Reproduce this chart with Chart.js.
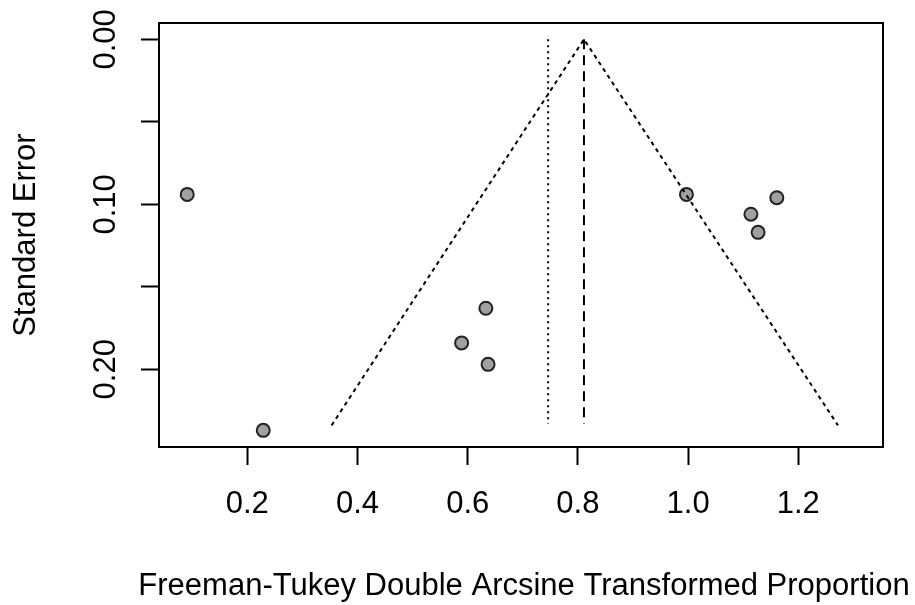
<!DOCTYPE html>
<html>
<head>
<meta charset="utf-8">
<script src="https://cdn.jsdelivr.net/npm/chart.js@4/dist/chart.umd.min.js"></script>
<style>
html,body{margin:0;padding:0;background:#fff;}
#wrap{width:915px;height:605px;}
</style>
</head>
<body>
<div id="wrap"><canvas id="c" width="915" height="605"></canvas></div>
<script>
// Study effects (Freeman-Tukey transformed proportion) and standard errors
const effects = [0.091, 0.229, 0.589, 0.633, 0.637, 0.997, 1.114, 1.127, 1.161];
const stdErrors = [0.094, 0.237, 0.184, 0.163, 0.197, 0.094, 0.106, 0.117, 0.096];
// Funnel (pseudo confidence limits)
const funnelX = [0.353, 0.811, 1.272];
const funnelSE = [0.234, 0.000, 0.234];
// Pooled estimate (dashed) and alternative estimate (dotted)
const pooledX = [0.811, 0.811];
const pooledSE = [0.000, 0.233];
const altX = [0.746, 0.746];
const altSE = [0.000, 0.233];
// Ticks
const xTicks = [0.2, 0.4, 0.6, 0.8, 1.0, 1.2];
const xTickLabels = ['0.2', '0.4', '0.6', '0.8', '1.0', '1.2'];
const yTicks = [0.00, 0.05, 0.10, 0.15, 0.20];
const yTickLabels = ['0.00', '', '0.10', '', '0.20'];
const xTitle = 'Freeman-Tukey Double Arcsine Transformed Proportion';
const yTitle = 'Standard Error';

const FONT = '"Liberation Sans", Arial, sans-serif';
const FS = 31;
const pts = (xs, ys) => xs.map((x, i) => ({x: x, y: ys[i]}));

const boxAndLabels = {
  id: 'boxAndLabels',
  afterDraw(chart) {
    const ctx = chart.ctx, a = chart.chartArea, ys = chart.scales.y;
    ctx.save();
    ctx.strokeStyle = '#000';
    ctx.lineWidth = 2;
    ctx.strokeRect(a.left, a.top, a.right - a.left, a.bottom - a.top);
    ctx.fillStyle = '#000';
    ctx.font = FS + 'px ' + FONT;
    ctx.textAlign = 'center';
    ctx.textBaseline = 'alphabetic';
    yTicks.forEach((v, i) => {
      if (!yTickLabels[i]) return;
      const py = ys.getPixelForValue(v);
      ctx.save();
      ctx.translate(115, py);
      ctx.rotate(-Math.PI / 2);
      ctx.fillText(yTickLabels[i], 0, 0);
      ctx.restore();
    });
    // x-axis title (R places it centred under the plot, may exceed plot width)
    ctx.fillText(xTitle, (a.left + a.right) / 2 + 3, 595);
    ctx.restore();
  }
};

new Chart(document.getElementById('c'), {
  type: 'scatter',
  data: {
    datasets: [
      {data: pts(funnelX, funnelSE), showLine: true, borderColor: '#000', borderWidth: 2, borderDash: [4, 4], pointRadius: 0, fill: false},
      {data: pts(pooledX, pooledSE), showLine: true, borderColor: '#000', borderWidth: 2, borderDash: [10, 6], pointRadius: 0, fill: false},
      {data: pts(altX, altSE), showLine: true, borderColor: '#000', borderWidth: 2, borderDash: [2, 4], pointRadius: 0, fill: false},
      {data: pts(effects, stdErrors), showLine: false, pointRadius: 6.5, pointBackgroundColor: '#a0a0a0', pointBorderColor: '#222', pointBorderWidth: 2}
    ]
  },
  options: {
    responsive: false,
    animation: false,
    events: [],
    layout: {padding: {left: 0, right: 32, top: 23, bottom: 0}},
    plugins: {legend: {display: false}, tooltip: {enabled: false}},
    scales: {
      x: {
        type: 'linear', min: 0.0398, max: 1.3537,
        afterBuildTicks: s => { s.ticks = xTicks.map(v => ({value: v})); },
        afterFit: s => { s.height = 158; },
        grid: {drawOnChartArea: false, drawTicks: true, tickLength: 18, tickColor: '#000', tickWidth: 2},
        border: {display: true, color: '#000', width: 2},
        ticks: {color: '#000', font: {family: FONT, size: FS}, padding: 21, maxRotation: 0, autoSkip: false,
                callback: (v, i) => xTickLabels[i]},
        title: {display: false, text: xTitle}
      },
      y: {
        type: 'linear', reverse: true, min: -0.0099, max: 0.2471,
        afterBuildTicks: s => { s.ticks = yTicks.map(v => ({value: v})); },
        afterFit: s => { s.width = 159; },
        grid: {drawOnChartArea: false, drawTicks: true, tickLength: 18, tickColor: '#000', tickWidth: 2},
        border: {display: true, color: '#000', width: 2},
        ticks: {display: false},
        title: {display: true, text: yTitle, color: '#000', font: {family: FONT, size: FS}, padding: {top: 8, bottom: 0}}
      }
    }
  },
  plugins: [boxAndLabels]
});
</script>
</body>
</html>
